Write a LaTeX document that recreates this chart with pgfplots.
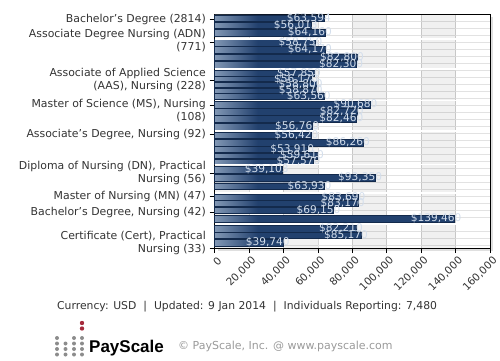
\documentclass[border=0pt]{standalone}
\usepackage{pgfplots}
\pgfplotsset{compat=1.18}
\usepackage{fontspec}
\setmainfont{DejaVu Sans}
\newfontfamily\lib{Liberation Sans}
\usetikzlibrary{shadows}
\definecolor{barlight}{HTML}{8197B4}
\definecolor{bardark}{HTML}{22416E}
\definecolor{barline}{HTML}{132A4C}
\definecolor{lbl}{HTML}{D3DEEC}
\definecolor{gridc}{HTML}{D4D4D4}
\definecolor{hgrid}{HTML}{E2E2E2}
\definecolor{txt}{HTML}{333333}
\definecolor{copyc}{HTML}{9A9A9A}
\definecolor{dotg}{HTML}{8C8C8C}
\definecolor{dotr}{HTML}{A52A3C}
\pgfdeclarehorizontalshading{barshade}{100bp}{color(0bp)=(barlight); color(25bp)=(barlight); color(34bp)=(bardark); color(100bp)=(bardark)}
\pgfplotstableread{
y v lab
18 63594 63,594
25 56013 56,013
32.5 64160 64,160
42.5 58750 58,750
49.5 64170 64,170
57 82800 82,800
64.5 82300 82,300
73 57850 57,850
79 56170 56,170
84.5 58800 58,800
90 58870 58,870
96 63560 63,560
104.5 90680 90,680
111.5 82720 82,720
118.5 82460 82,460
126.5 56760 56,760
135 56420 56,420
142.5 86260 86,260
149.5 53910 53,910
155.5 59610 59,610
161 57570 57,570
169.5 39103 39,103
177.5 93350 93,350
186 63930 63,930
197 83690 83,690
203 83170 83,170
210 69150 69,150
218.5 139460 139,460
228.5 82210 82,210
235 85170 85,170
242.5 39740 39,740
}\bars
\begin{document}
\begin{tikzpicture}[x=1pt,y=1pt]
\path[use as bounding box] (0,0) rectangle (500,360);
\begin{axis}[
  at={(214.5pt,112pt)}, anchor=south west,
  scale only axis, width=275.5pt, height=234pt,
  xmin=0, xmax=160000, ymin=14, ymax=248,
  y dir=reverse,
  clip=false,
  axis background/.style={fill=white, drop shadow={shadow xshift=3pt, shadow yshift=-3pt, opacity=0.25}},
  axis line style={black, line width=0.8pt},
  tick align=outside, tick pos=left,
  major tick length=5pt,
  tick style={black, line width=0.6pt},
  minor tick length=0pt,
  xtick={0,20000,40000,60000,80000,100000,120000,140000,160000},
  xticklabels={0,{20,000},{40,000},{60,000},{80,000},{100,000},{120,000},{140,000},{160,000}},
  scaled x ticks=false,
  xticklabel style={font=\fontsize{10.4}{12}\selectfont, text=txt, xshift=6pt, yshift=-5pt, rotate=45, anchor=east, inner sep=1pt},
  ytick={19,42,80,105,134,173,196,212,248},
  yticklabels={},
  minor ytick={21,28,...,245},
  xmajorgrids, yminorgrids,
  major grid style={gridc, line width=0.5pt},
  minor grid style={hgrid, line width=0.4pt},
]
\fill[black, opacity=0.06] (axis cs:0,14) rectangle (axis cs:20000,248);
\fill[black, opacity=0.06] (axis cs:40000,14) rectangle (axis cs:60000,248);
\fill[black, opacity=0.06] (axis cs:80000,14) rectangle (axis cs:100000,248);
\fill[black, opacity=0.06] (axis cs:120000,14) rectangle (axis cs:140000,248);
\addplot[xbar, bar width=6.6, shade, shading=barshade, draw=barline, line width=0.4pt,
  point meta=explicit symbolic,
  nodes near coords={\textdollar\pgfplotspointmeta},
  nodes near coords style={anchor=east, xshift=7pt, inner sep=0pt, font=\fontsize{10.6}{11}\selectfont, text=lbl}]
  table[x=v, y=y, meta=lab] {\bars};
\addplot[white, line width=1.2pt, forget plot] coordinates {(0,39) (160000,39)};
\addplot[white, line width=1.2pt, forget plot] coordinates {(0,69) (160000,69)};
\addplot[white, line width=1.2pt, forget plot] coordinates {(0,100.5) (160000,100.5)};
\addplot[white, line width=1.2pt, forget plot] coordinates {(0,131) (160000,131)};
\addplot[white, line width=1.2pt, forget plot] coordinates {(0,164.5) (160000,164.5)};
\addplot[white, line width=1.2pt, forget plot] coordinates {(0,193) (160000,193)};
\addplot[white, line width=1.2pt, forget plot] coordinates {(0,224) (160000,224)};
\end{axis}
\begin{scope}[every node/.style={anchor=east, align=right, text=txt, font=\fontsize{10.9}{13}\selectfont, inner sep=0pt}]
\node at (206,360-19) {Bachelor's Degree (2814)};
\node at (206,360-40.5) {Associate Degree Nursing (ADN)\\(771)};
\node at (206,360-79.5) {Associate of Applied Science\\(AAS), Nursing (228)};
\node at (206,360-110.5) {Master of Science (MS), Nursing\\(108)};
\node at (206,360-134) {Associate's Degree, Nursing (92)};
\node at (206,360-172.5) {Diploma of Nursing (DN), Practical\\Nursing (56)};
\node at (206,360-196) {Master of Nursing (MN) (47)};
\node at (206,360-212) {Bachelor's Degree, Nursing (42)};
\node at (206,360-243) {Certificate (Cert), Practical\\Nursing (33)};
\end{scope}
\node[anchor=west, inner sep=0pt, text=txt, font=\fontsize{10.8}{12}\selectfont] at (57,53)
  {Currency: USD\hspace{7pt}|\hspace{7pt}Updated: 9 Jan 2014\hspace{7pt}|\hspace{7pt}Individuals Reporting: 7,480};
\foreach \xx/\yy in {57/338,74/338,82/338} {\fill[dotg] (\xx,360-\yy) circle (2pt);}
\foreach \yy in {343.5,349,354.5} {\foreach \xx in {57,65.5,74,82} {\fill[dotg] (\xx,360-\yy) circle (2pt);}}
\fill[dotr] (82,360-323) circle (2.2pt);
\fill[dotr] (82,360-328.5) circle (2.2pt);
\node[anchor=base west, inner sep=0pt, font=\lib\bfseries\fontsize{17}{17}\selectfont] at (89,360-352) {PayScale};
\node[anchor=base west, inner sep=0pt, text=copyc, font=\fontsize{11}{12}\selectfont] at (178,360-349) {© PayScale, Inc. @ www.payscale.com};
\end{tikzpicture}
\end{document}
